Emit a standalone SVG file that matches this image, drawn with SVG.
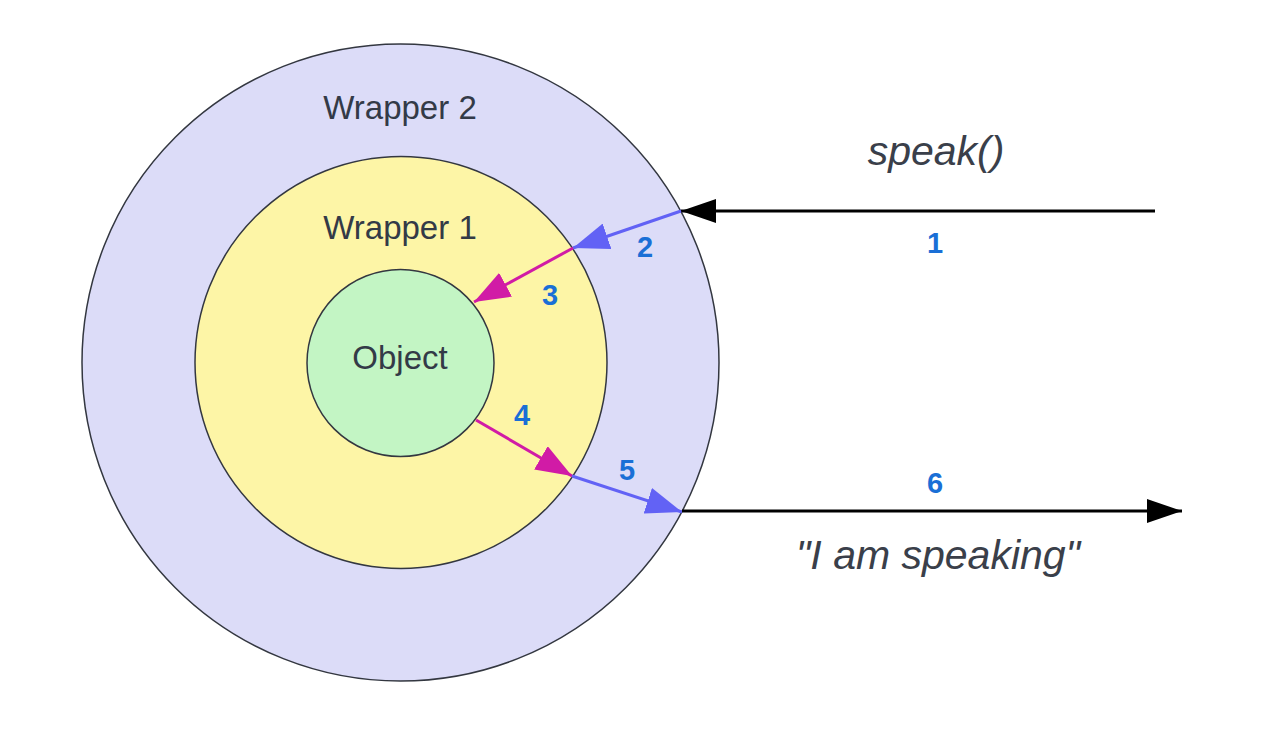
<svg xmlns="http://www.w3.org/2000/svg" width="1264" height="731" viewBox="0 0 1264 731">
<defs>
<style>
.ring{stroke:#333740;stroke-width:1.5}
.lbl{font-family:"Liberation Sans",Arial,sans-serif;fill:#333a47;text-anchor:middle;font-size:33px}
.num{font-family:"Liberation Sans",Arial,sans-serif;font-weight:bold;font-size:29px;fill:#1a6fd6;text-anchor:middle}
.it{font-family:"Liberation Sans",Arial,sans-serif;font-style:italic;font-size:41px;fill:#3a3f4a;text-anchor:middle}
.blk{stroke:#000;stroke-width:3;fill:none}
.vio{stroke:#6262f5;stroke-width:3;fill:none}
.mag{stroke:#d11ba6;stroke-width:3;fill:none}
</style>
<marker id="hv" viewBox="0 0 10 10" preserveAspectRatio="none" refX="10" refY="5" markerWidth="36" markerHeight="27" orient="auto" markerUnits="userSpaceOnUse">
<path d="M0,0 L10,5 L0,10 Z" fill="#6262f5"/>
</marker>
<marker id="hm" viewBox="0 0 10 10" preserveAspectRatio="none" refX="10" refY="5" markerWidth="36" markerHeight="27" orient="auto" markerUnits="userSpaceOnUse">
<path d="M0,0 L10,5 L0,10 Z" fill="#d11ba6"/>
</marker>
<marker id="hk" viewBox="0 0 10 10" preserveAspectRatio="none" refX="10" refY="5" markerWidth="35" markerHeight="24" orient="auto" markerUnits="userSpaceOnUse">
<path d="M0,0 L10,5 L0,10 Z" fill="#000"/>
</marker>
</defs>
<rect width="1264" height="731" fill="#fff"/>
<g id="wrapper2">
<circle class="ring" cx="400.5" cy="362.5" r="318.5" fill="#dcdcf8"/>
<text class="lbl" x="400" y="119">Wrapper 2</text>
</g>
<g id="wrapper1">
<circle class="ring" cx="401" cy="362.5" r="206" fill="#fdf5a6"/>
<text class="lbl" x="400" y="239">Wrapper 1</text>
</g>
<g id="object">
<circle class="ring" cx="400.5" cy="363" r="93.5" fill="#c3f5c4"/>
<text class="lbl" x="400" y="369">Object</text>
</g>
<g id="connectors">
<line class="blk" x1="1155" y1="211" x2="681" y2="211" marker-end="url(#hk)"/>
<line class="vio" x1="681" y1="211" x2="573" y2="248" marker-end="url(#hv)"/>
<line class="mag" x1="573" y1="248" x2="474" y2="302" marker-end="url(#hm)"/>
<line class="mag" x1="476" y1="420" x2="572" y2="476" marker-end="url(#hm)"/>
<line class="vio" x1="572" y1="476" x2="682" y2="512" marker-end="url(#hv)"/>
<line class="blk" x1="682" y1="511" x2="1182" y2="511" marker-end="url(#hk)"/>
</g>
<g id="labels">
<text class="it" x="936" y="165">speak()</text>
<text class="it" x="938" y="569">"I am speaking"</text>
<text class="num" x="935" y="253">1</text>
<text class="num" x="645" y="257">2</text>
<text class="num" x="550" y="305">3</text>
<text class="num" x="522" y="425">4</text>
<text class="num" x="627" y="480">5</text>
<text class="num" x="935" y="493">6</text>
</g>
</svg>
